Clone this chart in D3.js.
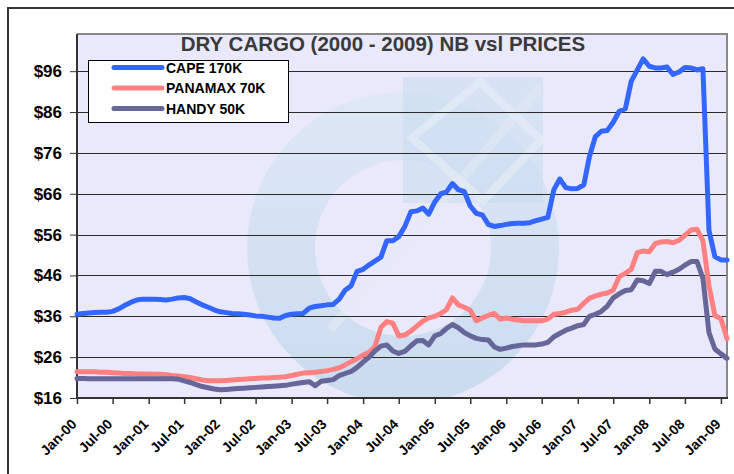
<!DOCTYPE html>
<html><head><meta charset="utf-8">
<script src="https://cdn.jsdelivr.net/npm/d3@7"></script>
<style>
html,body{margin:0;padding:0;background:#fff;}
svg{display:block;font-family:"Liberation Sans",Arial,sans-serif;}
</style></head><body>
<svg id="c" width="734" height="474"></svg>
<script>
const titleText = "DRY CARGO (2000 - 2009) NB vsl PRICES";
const seriesNames = ["CAPE 170K", "PANAMAX 70K", "HANDY 50K"];
const seriesColors = ["#3366FF", "#FF8080", "#666699"];
// monthly values Jan-2000 .. Feb-2009
const cape = [36.5,36.7,36.8,36.9,37.0,37.0,37.2,37.8,38.7,39.4,40.0,40.2,
  40.2,40.2,40.1,40.0,40.2,40.5,40.6,40.3,39.5,38.8,38.2,37.6,
  37.1,36.9,36.7,36.6,36.5,36.3,36.1,36.0,35.8,35.6,35.5,36.2,
  36.5,36.6,36.7,38.0,38.4,38.6,38.8,38.9,40.2,42.4,43.5,47.0,
  47.5,48.6,49.5,50.5,54.5,54.5,55.5,58.0,61.6,61.8,62.5,61.0,
  64.0,66.0,66.4,68.5,67.0,66.5,63.0,61.2,60.8,58.5,58.0,58.2,
  58.5,58.7,58.8,58.8,58.9,59.4,59.8,60.2,67.0,69.6,67.5,67.2,
  67.3,68.2,75.0,80.0,81.3,81.5,83.5,86.2,86.8,93.5,96.3,99.0,
  97.2,96.8,96.8,97.0,95.2,95.8,96.9,96.8,96.3,96.6,57.0,50.6,
  49.8,49.8];
const panamax = [22.4,22.4,22.4,22.4,22.3,22.3,22.2,22.1,22.0,22.0,21.9,21.9,
  21.9,21.8,21.8,21.7,21.5,21.4,21.2,21.0,20.7,20.4,20.2,20.2,
  20.2,20.3,20.4,20.5,20.6,20.7,20.8,20.9,20.9,21.0,21.1,21.2,
  21.5,21.8,22.1,22.2,22.3,22.5,22.7,23.0,23.4,24.1,24.9,25.6,
  26.5,27.2,28.6,33.3,34.7,34.3,31.2,31.4,32.4,33.6,34.8,35.6,
  36.0,36.7,37.6,40.5,38.8,38.2,37.5,34.9,35.6,36.2,36.7,35.3,
  35.6,35.3,35.1,34.9,34.9,34.9,34.9,35.3,36.5,36.7,37.0,37.5,
  37.7,39.2,40.4,41.0,41.4,41.7,42.4,45.7,46.5,47.5,51.6,52.0,
  51.8,53.8,54.2,54.3,54.0,54.6,55.8,57.1,57.3,54.5,43.5,36.2,
  35.4,30.5];
const handy = [20.8,20.8,20.7,20.7,20.7,20.7,20.7,20.7,20.7,20.7,20.7,20.7,
  20.7,20.7,20.7,20.7,20.7,20.6,20.2,19.8,19.3,18.8,18.5,18.2,
  18.0,18.1,18.2,18.3,18.4,18.5,18.6,18.7,18.8,18.9,19.0,19.1,
  19.4,19.6,19.8,20.0,19.0,20.1,20.3,20.5,21.5,22.0,22.5,23.5,
  24.8,26.0,27.5,28.7,29.0,27.5,26.9,27.4,28.8,30.0,30.1,29.0,
  31.2,31.8,33.0,34.0,33.2,32.0,31.2,30.6,30.3,30.2,28.5,27.9,
  28.2,28.6,28.8,29.0,29.0,29.0,29.2,29.6,31.0,31.8,32.6,33.1,
  33.7,34.0,36.0,36.5,37.2,38.5,40.5,41.5,42.3,42.5,44.9,44.7,
  44.0,47.0,47.0,46.2,46.8,47.5,48.5,49.4,49.4,45.3,32.0,28.0,
  26.8,25.7];
const yTickValues = [16,26,36,46,56,66,76,86,96];
const xTickLabels = ["Jan-00","Jul-00","Jan-01","Jul-01","Jan-02","Jul-02","Jan-03","Jul-03",
  "Jan-04","Jul-04","Jan-05","Jul-05","Jan-06","Jul-06","Jan-07","Jul-07","Jan-08","Jul-08","Jan-09"];

const months = d3.timeMonth.range(new Date(2000,0,1), new Date(2009,2,1));
const allSeries = [cape, panamax, handy];

const svg = d3.select("#c");
const L = 77, R = 727, T = 34, B = 398;

// outer frame
svg.append("rect").attr("x",8).attr("y",8).attr("width",760).attr("height",500)
  .attr("fill","#ffffff").attr("stroke","#333").attr("stroke-width",2);

const x = d3.scaleTime().domain([new Date(2000,0,1), new Date(2009,1,1)]).range([L, R]);
const y = d3.scaleLinear().domain([16, 105.1]).range([B, T]);

// plot background
svg.append("rect").attr("x",L).attr("y",T).attr("width",R-L).attr("height",B-T).attr("fill","#E9E9FB");

// watermark
const defs = svg.append("defs");
const clip = defs.append("clipPath").attr("id","pc");
clip.append("rect").attr("x",L).attr("y",T).attr("width",R-L).attr("height",B-T);
const grad = defs.append("linearGradient").attr("id","wg").attr("x1",0).attr("y1",0).attr("x2",0).attr("y2",1);
grad.append("stop").attr("offset","0%").attr("stop-color","#D8E6F3");
grad.append("stop").attr("offset","100%").attr("stop-color","#B6D2E7");
const wm = svg.append("g").attr("clip-path","url(#pc)");
const cx = 403, cy = 248;
wm.append("path")
  .attr("d", d3.arc().innerRadius(88).outerRadius(156).startAngle(0).endAngle(2*Math.PI)())
  .attr("transform",`translate(${cx},${cy})`)
  .attr("fill","url(#wg)").attr("opacity",0.6);
wm.append("rect").attr("x",403).attr("y",77).attr("width",140).attr("height",126)
  .attr("fill","#C9DDEE").attr("opacity",0.55);
wm.append("path").attr("d","M480,82 L541,140 L483,201 L412,138 Z")
  .attr("fill","none").attr("stroke","#E6ECF8").attr("stroke-width",8).attr("opacity",0.7);
wm.append("line").attr("x1",540).attr("y1",88).attr("x2",330).attr("y2",330)
  .attr("stroke","#E3EAF7").attr("stroke-width",9).attr("opacity",0.6);

// gridlines
svg.append("g").selectAll("line").data(yTickValues.filter(v => v > 16)).join("line")
  .attr("x1",L).attr("x2",R).attr("y1",d => Math.round(y(d))+0.5).attr("y2",d => Math.round(y(d))+0.5)
  .attr("stroke","#2a2a2a").attr("stroke-width",1);

// plot border top/right
svg.append("path").attr("d",`M${L},${T} H${R} V${B}`).attr("fill","none").attr("stroke","#888").attr("stroke-width",2);

// axes
const yAxis = svg.append("g").attr("transform",`translate(${L},0)`)
  .call(d3.axisLeft(y).tickValues(yTickValues).tickSize(7).tickPadding(8).tickFormat(d => "$" + d));
yAxis.select(".domain").remove();
yAxis.selectAll(".tick line").attr("stroke","#333").attr("stroke-width",1);
yAxis.selectAll("text").attr("font-size",17).attr("font-weight","bold").attr("fill","#000")
  .attr("font-family","Liberation Sans, Arial, sans-serif");

const xTickDates = xTickLabels.map(s => d3.timeParse("%b-%y")(s));
const xAxis = svg.append("g").attr("transform",`translate(0,${B})`)
  .call(d3.axisBottom(x).tickValues(xTickDates).tickSize(6).tickFormat((d,i) => xTickLabels[i]));
xAxis.select(".domain").remove();
xAxis.selectAll(".tick line").attr("stroke","#333").attr("stroke-width",1.5);
xAxis.selectAll("text").attr("font-size",14).attr("font-weight","bold").attr("fill","#000")
  .attr("font-family","Liberation Sans, Arial, sans-serif")
  .attr("text-anchor","end").attr("x",0).attr("y",0).attr("dy",0)
  .attr("transform","translate(0,27) rotate(-45)");

// axis lines
svg.append("line").attr("x1",L).attr("x2",L).attr("y1",T).attr("y2",B+1).attr("stroke","#333").attr("stroke-width",2);
svg.append("line").attr("x1",L-1).attr("x2",R+1).attr("y1",B).attr("y2",B).attr("stroke","#333").attr("stroke-width",2);

// series lines
const line = d3.line().x((d,i) => x(months[i])).y(d => y(d)).curve(d3.curveLinear);
svg.append("g").selectAll("path").data(allSeries).join("path")
  .attr("d", d => line(d)).attr("fill","none")
  .attr("stroke",(d,i) => seriesColors[i]).attr("stroke-width",5)
  .attr("stroke-linejoin","round").attr("stroke-linecap","round");

// title
svg.append("text").attr("x",383).attr("y",51).attr("text-anchor","middle")
  .attr("font-size",20.5).attr("font-weight","bold").attr("fill","#3a3a3a").text(titleText);

// legend
const lg = svg.append("g");
lg.append("rect").attr("x",88.5).attr("y",60.5).attr("width",200).attr("height",62)
  .attr("fill","#fff").attr("stroke","#000").attr("stroke-width",1);
const ly = [67.5, 88, 108.5];
seriesNames.forEach((n,i) => {
  lg.append("line").attr("x1",114).attr("x2",162).attr("y1",ly[i]).attr("y2",ly[i])
    .attr("stroke",seriesColors[i]).attr("stroke-width",5).attr("stroke-linecap","round");
  lg.append("text").attr("x",166).attr("y",ly[i]).attr("dy","0.36em")
    .attr("font-size",14).attr("font-weight","bold").attr("fill","#000").text(n);
});
</script>
</body></html>
